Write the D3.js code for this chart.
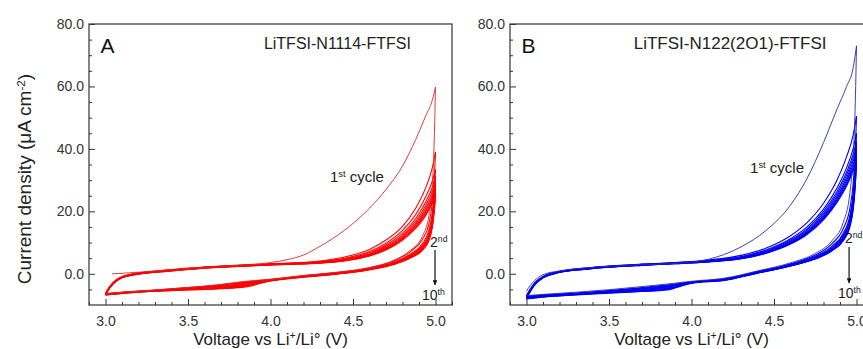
<!DOCTYPE html>
<html>
<head>
<meta charset="utf-8">
<script src="https://cdn.jsdelivr.net/npm/d3@7"></script>
<style>
  html, body { margin: 0; padding: 0; background: #fff; }
  svg { display: block; font-family: "Liberation Sans", Arial, sans-serif; }
</style>
</head>
<body>
<script>
// voltage grids (V vs Li+/Li)
const vFwd = [3.0, 3.02, 3.05, 3.1, 3.2, 3.35, 3.5, 3.7, 3.9, 4.1, 4.3, 4.45, 4.6, 4.7, 4.8, 4.88, 4.94, 4.98, 5.0];
const vRev = [5.0, 4.995, 4.99, 4.98, 4.96, 4.92, 4.85, 4.75, 4.6, 4.4, 4.2, 4.0, 3.85, 3.7, 3.5, 3.3, 3.1, 3.0];
const vFwdA1 = [3.04, 3.07, 3.1, 3.2, 3.35, 3.5, 3.7, 3.9, 4.0, 4.1, 4.2, 4.3, 4.45, 4.6, 4.7, 4.8, 4.88, 4.94, 4.98, 5.0];

// A: LiTFSI-N1114-FTFSI, current density uA/cm2
const aFirstFwd = [0.0, 0.05, 0.15, 0.5, 1.1, 1.7, 2.4, 3.0, 3.6, 4.5, 6.0, 8.8, 14.0, 21.0, 27.0, 34.5, 43, 50.5, 55.5, 59.8];
const aFirstRev = [59.8, 48, 39, 28, 18.5, 12, 7.6, 4.4, 2.0, 0.5, -0.6, -1.8, -2.4, -3.4, -4.4, -5.2, -5.9, -6.3];
const aFwd = [
  [-6.3, -4.5, -2.6, -0.9, 0.3, 1.1, 1.8, 2.5, 3.0, 3.4, 4.1, 5.4, 7.8, 10.8, 15.2, 21.0, 27.5, 33.8, 39.0],
  [-6.4, -4.6, -2.7, -1.0, 0.2, 1.0, 1.7, 2.4, 2.9, 3.3, 3.9, 5.0, 7.1, 9.8, 13.9, 19.0, 24.6, 29.6, 33.4],
  [-6.5, -4.7, -2.8, -1.0, 0.2, 1.0, 1.7, 2.4, 2.9, 3.3, 3.8, 4.8, 6.7, 9.2, 13.0, 17.7, 22.9, 27.6, 31.2],
  [-6.5, -4.7, -2.8, -1.1, 0.1, 0.9, 1.6, 2.3, 2.8, 3.2, 3.7, 4.6, 6.4, 8.8, 12.4, 16.9, 21.8, 26.3, 29.6],
  [-6.6, -4.8, -2.9, -1.1, 0.1, 0.9, 1.6, 2.3, 2.8, 3.2, 3.6, 4.5, 6.2, 8.5, 12.0, 16.2, 20.9, 25.2, 28.4],
  [-6.6, -4.8, -2.9, -1.2, 0.0, 0.8, 1.5, 2.2, 2.7, 3.1, 3.6, 4.4, 6.0, 8.2, 11.6, 15.7, 20.2, 24.4, 27.5],
  [-6.7, -4.9, -3.0, -1.2, 0.0, 0.8, 1.5, 2.2, 2.7, 3.1, 3.5, 4.3, 5.9, 8.0, 11.3, 15.3, 19.6, 23.7, 26.7],
  [-6.7, -4.9, -3.0, -1.3, -0.1, 0.7, 1.4, 2.1, 2.6, 3.0, 3.5, 4.2, 5.8, 7.8, 11.0, 14.9, 19.1, 23.1, 26.0],
  [-6.8, -5.0, -3.1, -1.3, -0.1, 0.7, 1.4, 2.1, 2.6, 3.0, 3.4, 4.1, 5.7, 7.6, 10.7, 14.5, 18.6, 22.6, 25.4]
];
const aRev = [
  [39.0, 33.0, 28.5, 22.5, 16.0, 11.0, 7.2, 4.2, 1.9, 0.4, -0.6, -1.8, -2.6, -3.5, -4.4, -5.2, -5.9, -6.4],
  [33.4, 28.4, 24.6, 19.3, 14.0, 9.6, 6.4, 3.8, 1.7, 0.3, -0.7, -1.9, -2.8, -3.7, -4.5, -5.3, -6.0, -6.5],
  [31.2, 26.5, 23.0, 18.0, 13.1, 9.1, 6.1, 3.6, 1.6, 0.2, -0.8, -2.0, -3.0, -3.9, -4.6, -5.3, -6.0, -6.5],
  [29.6, 25.2, 21.8, 17.1, 12.4, 8.7, 5.8, 3.5, 1.5, 0.1, -0.8, -2.0, -3.2, -4.1, -4.7, -5.4, -6.1, -6.6],
  [28.4, 24.2, 21.0, 16.4, 11.9, 8.4, 5.6, 3.4, 1.5, 0.1, -0.9, -2.1, -3.4, -4.3, -4.8, -5.4, -6.1, -6.6],
  [27.5, 23.4, 20.3, 15.9, 11.5, 8.1, 5.4, 3.3, 1.4, 0.0, -0.9, -2.1, -3.6, -4.4, -4.9, -5.5, -6.2, -6.7],
  [26.7, 22.7, 19.7, 15.4, 11.2, 7.9, 5.3, 3.2, 1.4, 0.0, -1.0, -2.2, -3.8, -4.6, -5.0, -5.5, -6.2, -6.7],
  [26.0, 22.1, 19.2, 15.0, 10.9, 7.7, 5.2, 3.1, 1.3, -0.1, -1.0, -2.2, -4.0, -4.7, -5.1, -5.6, -6.3, -6.8],
  [25.4, 21.6, 18.7, 14.7, 10.6, 7.5, 5.1, 3.0, 1.3, -0.1, -1.1, -2.3, -4.2, -4.8, -5.2, -5.6, -6.3, -6.8]
];

// B: LiTFSI-N122(2O1)-FTFSI
const bFirstFwd = [-5.6, -3.9, -2.1, -0.3, 0.9, 1.8, 2.4, 2.9, 3.3, 4.6, 8.6, 13.8, 22, 30.5, 42, 52.5, 60, 66, 73];
const bFirstRev = [73, 60, 50, 38, 26, 16.5, 10.5, 6.5, 3.5, 0.9, -1.4, -2.4, -3.3, -4.1, -5.1, -5.9, -6.6, -7.0];
const bFwd = [
  [-7.0, -5.1, -2.9, -0.9, 0.8, 1.8, 2.5, 3.1, 3.6, 4.4, 5.9, 8.2, 12.2, 16.4, 22.6, 29.8, 37.5, 44.5, 50.5],
  [-7.2, -5.3, -3.0, -1.0, 0.7, 1.7, 2.4, 3.0, 3.5, 4.2, 5.5, 7.6, 11.2, 15.0, 20.7, 27.3, 34.0, 40.2, 45.0],
  [-7.3, -5.4, -3.1, -1.0, 0.7, 1.7, 2.4, 3.0, 3.5, 4.1, 5.3, 7.3, 10.8, 14.4, 19.9, 26.2, 32.6, 38.3, 42.5],
  [-7.4, -5.5, -3.2, -1.1, 0.6, 1.6, 2.3, 2.9, 3.4, 4.0, 5.2, 7.1, 10.5, 14.0, 19.3, 25.4, 31.6, 37.1, 41.0],
  [-7.5, -5.6, -3.3, -1.1, 0.6, 1.6, 2.3, 2.9, 3.4, 4.0, 5.1, 6.9, 10.2, 13.6, 18.8, 24.7, 30.7, 36.0, 39.5],
  [-7.6, -5.7, -3.3, -1.2, 0.5, 1.5, 2.2, 2.8, 3.3, 3.9, 5.0, 6.8, 10.0, 13.3, 18.3, 24.1, 29.9, 35.0, 38.3],
  [-7.7, -5.8, -3.4, -1.2, 0.5, 1.5, 2.2, 2.8, 3.3, 3.9, 4.9, 6.7, 9.8, 13.0, 17.9, 23.6, 29.2, 34.2, 37.2],
  [-7.8, -5.9, -3.5, -1.3, 0.4, 1.4, 2.1, 2.7, 3.2, 3.8, 4.8, 6.6, 9.6, 12.8, 17.6, 23.1, 28.6, 33.5, 36.3],
  [-7.9, -6.0, -3.6, -1.3, 0.4, 1.4, 2.1, 2.7, 3.2, 3.8, 4.8, 6.5, 9.5, 12.6, 17.3, 22.7, 28.1, 32.9, 35.5]
];
const bRev = [
  [50.5, 43.0, 37.0, 29.0, 21.0, 14.5, 9.6, 6.0, 3.2, 0.7, -1.6, -2.6, -3.6, -4.4, -5.4, -6.2, -6.8, -7.2],
  [45.0, 38.3, 33.2, 26.0, 18.8, 13.0, 8.8, 5.6, 3.0, 0.6, -1.7, -2.7, -3.8, -4.6, -5.5, -6.3, -6.9, -7.3],
  [42.5, 36.2, 31.4, 24.6, 17.8, 12.4, 8.4, 5.4, 2.9, 0.5, -1.8, -2.7, -4.0, -4.8, -5.6, -6.3, -7.0, -7.4],
  [41.0, 34.9, 30.3, 23.7, 17.2, 12.0, 8.1, 5.2, 2.8, 0.4, -1.8, -2.8, -4.2, -5.0, -5.7, -6.4, -7.0, -7.5],
  [39.5, 33.6, 29.2, 22.9, 16.6, 11.6, 7.9, 5.1, 2.7, 0.4, -1.9, -2.8, -4.4, -5.2, -5.8, -6.5, -7.1, -7.6],
  [38.3, 32.6, 28.3, 22.2, 16.1, 11.3, 7.7, 5.0, 2.6, 0.3, -1.9, -2.9, -4.6, -5.3, -5.9, -6.5, -7.2, -7.7],
  [37.2, 31.6, 27.5, 21.6, 15.7, 11.0, 7.5, 4.9, 2.6, 0.3, -2.0, -2.9, -4.8, -5.5, -6.0, -6.6, -7.3, -7.8],
  [36.3, 30.9, 26.8, 21.1, 15.3, 10.8, 7.4, 4.8, 2.5, 0.2, -2.0, -3.0, -5.0, -5.6, -6.1, -6.7, -7.4, -7.9],
  [35.5, 30.2, 26.2, 20.6, 15.0, 10.6, 7.3, 4.7, 2.5, 0.2, -2.1, -3.0, -5.2, -5.7, -6.2, -6.8, -7.5, -8.1]
];

const xTicks = [3.0, 3.5, 4.0, 4.5, 5.0];
const yTicks = [0, 20, 40, 60, 80];

const W = 863, H = 349;
const svg = d3.select("body").append("svg").attr("width", W).attr("height", H);

const panels = [
  {
    letter: "A", name: "LiTFSI-N1114-FTFSI", nameSize: 16, nameAt: 3.96, left: 89,
    color: "#ff0000", firstColor: "#d42a2a",
    first: [{ v: vFwdA1, i: aFirstFwd }, { v: vRev, i: aFirstRev }],
    fwd: aFwd, rev: aRev,
    note1: [4.36, 29.4], note2: [4.967, 8.6], note10: [4.918, -8.4], arrow: [4.997, 7.6, -3.6]
  },
  {
    letter: "B", name: "LiTFSI-N122(2O1)-FTFSI", nameSize: 17, nameAt: 3.65, left: 510,
    color: "#0000f0", firstColor: "#2a2aa8",
    first: [{ v: vFwd, i: bFirstFwd }, { v: vRev, i: bFirstRev }],
    fwd: bFwd, rev: bRev,
    note1: [4.355, 32.3], note2: [4.93, 9.9], note10: [4.888, -7.8], arrow: [4.955, 8.6, -3.0]
  }
];

svg.append("defs").append("marker")
  .attr("id", "arrowhead")
  .attr("viewBox", "0 0 10 10")
  .attr("refX", 10).attr("refY", 5)
  .attr("markerWidth", 4).attr("markerHeight", 4)
  .attr("markerUnits", "strokeWidth")
  .attr("orient", "auto")
  .append("path").attr("d", "M0,0L10,5L0,10z").attr("fill", "#111");

// text with superscript pieces: [string, isSup]
function supText(t, parts) {
  parts.forEach(([s, sup]) => {
    t.append("tspan")
      .attr("baseline-shift", sup ? "super" : null)
      .attr("font-size", sup ? "62%" : null)
      .text(s);
  });
  return t;
}

panels.forEach(p => {
  const x = d3.scaleLinear().domain([2.9, 5.1]).range([p.left, p.left + 363]);
  const y = d3.scaleLinear().domain([-10, 80]).range([305, 24]);
  const g = svg.append("g");

  const line = d3.line()
    .x(d => x(d[0]))
    .y(d => y(d[1]))
    .curve(d3.curveMonotoneX);

  const branch = (v, i) => v.map((vv, k) => [vv, i[k]]).sort((a, b) => a[0] - b[0]);

  // cycles 2-10
  p.fwd.forEach((row, k) => {
    g.append("path").attr("d", line(branch(vFwd, row)))
      .attr("fill", "none").attr("stroke", p.color).attr("stroke-width", 1.1);
    g.append("path").attr("d", line(branch(vRev, p.rev[k])))
      .attr("fill", "none").attr("stroke", p.color).attr("stroke-width", 1.1);
  });
  // 1st cycle
  p.first.forEach(b => {
    g.append("path").attr("d", line(branch(b.v, b.i)))
      .attr("fill", "none").attr("stroke", p.firstColor).attr("stroke-width", 0.9);
  });

  // axes, ticks pointing in
  const xMinor = d3.range(29, 52).map(d => d / 10).filter(d => !xTicks.some(t => Math.abs(t - d) < 1e-6));
  const yMinor = d3.range(-5, 80, 5).filter(d => d % 20 !== 0);

  g.append("g").attr("transform", "translate(0,305)")
    .call(d3.axisBottom(x).tickValues(xTicks).tickFormat(d3.format(".1f")).tickSize(-6).tickPadding(11));
  g.append("g").attr("transform", "translate(0,305)")
    .call(d3.axisBottom(x).tickValues(xMinor).tickFormat("").tickSize(-3));
  g.append("g").attr("transform", `translate(${p.left},0)`)
    .call(d3.axisLeft(y).tickValues(yTicks).tickFormat(d3.format(".1f")).tickSize(-6).tickPadding(5));
  g.append("g").attr("transform", `translate(${p.left},0)`)
    .call(d3.axisLeft(y).tickValues(yMinor).tickFormat("").tickSize(-3));

  g.selectAll(".domain").remove();
  g.selectAll(".tick line").attr("stroke", "#333").attr("stroke-width", 1);
  g.selectAll(".tick text").attr("font-size", 14).attr("fill", "#333")
    .attr("font-family", "'Liberation Sans', Arial, sans-serif");

  // frame
  g.append("rect")
    .attr("x", x(2.9)).attr("y", y(80))
    .attr("width", x(5.1) - x(2.9)).attr("height", y(-10) - y(80))
    .attr("fill", "none").attr("stroke", "#333").attr("stroke-width", 1.2);

  // panel letter and electrolyte name
  g.append("text").attr("x", x(2.97)).attr("y", 53)
    .attr("font-size", 21).attr("fill", "#111").text(p.letter);
  g.append("text").attr("x", x(p.nameAt)).attr("y", 49)
    .attr("font-size", p.nameSize).attr("fill", "#222")
    .text(p.name);

  // axis titles
  supText(g.append("text")
    .attr("x", (x(3.0) + x(5.0)) / 2).attr("y", 345)
    .attr("text-anchor", "middle").attr("font-size", 17).attr("fill", "#222"),
    [["Voltage vs Li", false], ["+", true], ["/Li\u00b0 (V)", false]]);

  if (p.letter === "A") {
    supText(svg.append("text")
      .attr("transform", "translate(31,179) rotate(-90)")
      .attr("text-anchor", "middle").attr("font-size", 19).attr("fill", "#222"),
      [["Current density (\u03bcA cm", false], ["-2", true], [")", false]]);
  }

  // annotations
  supText(g.append("text").attr("x", x(p.note1[0])).attr("y", y(p.note1[1]))
    .attr("font-size", 15).attr("fill", "#222"),
    [["1", false], ["st", true], [" cycle", false]]);
  supText(g.append("text").attr("x", x(p.note2[0])).attr("y", y(p.note2[1]))
    .attr("font-size", 14).attr("fill", "#222"),
    [["2", false], ["nd", true]]);
  supText(g.append("text").attr("x", x(p.note10[0])).attr("y", y(p.note10[1]))
    .attr("font-size", 14).attr("fill", "#222"),
    [["10", false], ["th", true]]);
  g.append("line")
    .attr("x1", x(p.arrow[0])).attr("x2", x(p.arrow[0]))
    .attr("y1", y(p.arrow[1])).attr("y2", y(p.arrow[2]))
    .attr("stroke", "#111").attr("stroke-width", 1.2)
    .attr("marker-end", "url(#arrowhead)");
});
</script>
</body>
</html>
